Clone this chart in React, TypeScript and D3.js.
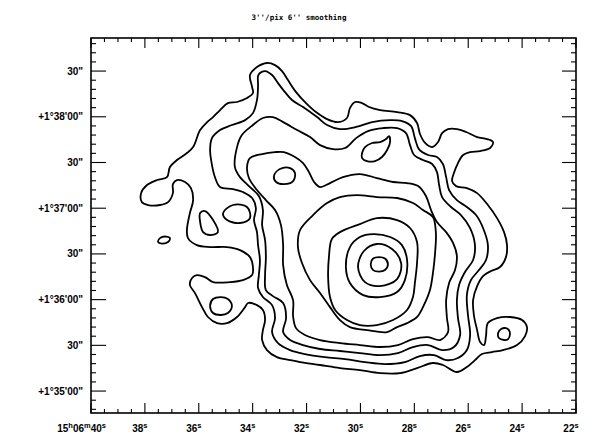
import * as d3 from "d3";

const width = 594;
const height = 444;
const frameLeft = 91;
const frameRight = 576;
const frameTop = 38;
const frameBottom = 413;

// RA: seconds of 15h06m, Dec: arcsec above +1°35'00"
const raDomain = [40, 22];
const decDomain = [-14.4, 231.7];

const raMajor = [40, 38, 36, 34, 32, 30, 28, 26, 24, 22];
const raLabels = ["40", "38", "36", "34", "32", "30", "28", "26", "24", "22"];
const decMajor = [0, 30, 60, 90, 120, 150, 180, 210];
const decLabels = [
  "+1°35'00\"",
  "30\"",
  "+1°36'00\"",
  "30\"",
  "+1°37'00\"",
  "30\"",
  "+1°38'00\"",
  "30\"",
];
const title = "3''/pix 6'' smoothing";

type Pt = [number, number];

// outermost level
const levelA: Pt[] = [
  [33.47, 215.3], [33.17, 213.9], [32.91, 210.0], [32.69, 204.1], [32.39, 196.2],
  [32.02, 189.0], [31.65, 183.1], [31.24, 178.5], [30.83, 176.5], [30.5, 179.2],
  [30.39, 185.7], [30.2, 189.7], [29.94, 189.0], [29.68, 186.4], [29.27, 184.4],
  [28.64, 183.1], [28.16, 181.1], [27.9, 175.9], [27.79, 168.7], [27.6, 162.8],
  [27.34, 160.1], [27.12, 163.4], [26.97, 169.3], [26.75, 171.9], [26.42, 171.9],
  [26.08, 170.0], [25.67, 166.7], [25.3, 165.4], [25.08, 163.4], [25.19, 159.5],
  [25.56, 157.5], [25.93, 156.8], [26.19, 154.9], [26.38, 149.6], [26.53, 143.1],
  [26.6, 137.8], [26.45, 134.5], [26.05, 133.2], [25.67, 129.9], [25.27, 122.1],
  [24.93, 113.5], [24.67, 104.3], [24.56, 95.8], [24.6, 87.9], [24.82, 81.4],
  [25.15, 78.8], [25.45, 75.5], [25.67, 68.9], [25.82, 59.7], [25.79, 49.9],
  [25.67, 40.0], [25.56, 32.2], [25.41, 30.2], [25.34, 36.1], [25.27, 44.6],
  [24.93, 47.9], [24.45, 48.6], [24.0, 46.6], [23.82, 42.0], [23.89, 36.1],
  [24.19, 30.2], [24.71, 26.9], [25.12, 25.6], [25.49, 24.3], [25.75, 20.3],
  [26.05, 15.8], [26.42, 12.5], [26.94, 17.1], [27.31, 18.4], [27.9, 15.1],
  [28.53, 11.8], [29.27, 11.8], [30.02, 13.8], [30.76, 15.1], [31.5, 17.1],
  [32.24, 19.0], [32.61, 20.3], [33.1, 22.3], [33.47, 26.9], [33.65, 33.5],
  [33.62, 40.0], [33.54, 46.6], [33.62, 53.2], [33.84, 56.4], [34.17, 57.8],
  [34.28, 55.1], [34.58, 48.6], [34.95, 44.6], [35.32, 44.6], [35.66, 48.6],
  [35.88, 55.1], [36.14, 64.3], [36.33, 69.6], [36.25, 74.2], [36.07, 76.1],
  [35.77, 74.8], [35.47, 71.5], [34.84, 71.5], [34.36, 72.8], [34.02, 76.1],
  [33.99, 81.4], [34.1, 87.9], [34.47, 92.5], [34.95, 94.5], [35.58, 94.5],
  [36.07, 95.8], [36.4, 100.4], [36.44, 105.7], [36.33, 116.8], [36.21, 125.3],
  [36.29, 133.2], [36.51, 137.2], [36.81, 138.5], [36.96, 135.8], [36.96, 129.9],
  [37.14, 124.0], [37.44, 122.1], [37.88, 122.1], [38.11, 124.0], [38.14, 129.9],
  [37.92, 135.2], [37.55, 138.5], [37.18, 140.4], [37.07, 147.0], [36.81, 151.6],
  [36.44, 156.2], [36.21, 160.1], [35.95, 171.3], [35.69, 176.5], [35.47, 179.8],
  [35.21, 184.4], [34.92, 189.0], [34.58, 189.7], [34.21, 192.3], [33.99, 195.6],
  [34.02, 199.5], [34.1, 207.4], [33.84, 212.6],
];

const levelB: Pt[] = [
  [33.54, 210.0], [33.28, 207.4], [33.06, 202.1], [32.8, 196.2], [32.54, 191.0],
  [32.13, 186.4], [31.61, 179.8], [31.24, 174.6], [30.76, 171.9], [30.16, 173.3],
  [29.57, 176.5], [28.9, 177.8], [28.46, 177.2], [28.12, 173.9], [27.98, 166.0],
  [27.83, 158.8], [27.49, 154.9], [27.16, 153.6], [26.94, 149.0], [26.82, 140.4],
  [26.71, 131.9], [26.42, 125.3], [26.05, 120.8], [25.71, 115.5], [25.45, 107.0],
  [25.27, 95.8], [25.34, 86.0], [25.6, 79.4], [25.9, 72.8], [26.05, 63.0],
  [26.01, 49.9], [25.93, 36.8], [26.05, 26.9], [26.38, 21.7], [26.82, 20.3],
  [27.27, 23.6], [27.79, 23.0], [28.35, 19.0], [29.09, 17.7], [29.83, 19.0],
  [30.57, 21.0], [31.32, 22.3], [32.06, 24.3], [32.61, 26.9], [33.06, 31.5],
  [33.28, 38.7], [33.17, 47.9], [33.28, 56.4], [33.62, 61.7], [33.8, 67.6],
  [33.77, 76.1], [33.73, 86.0], [33.8, 95.8], [33.84, 104.3], [33.95, 112.2],
  [33.88, 120.1], [34.02, 126.7], [34.36, 130.6], [34.73, 132.6], [35.21, 133.9],
  [35.4, 140.4], [35.51, 148.3], [35.58, 158.2], [35.51, 166.0], [35.21, 171.3],
  [34.77, 174.6], [34.28, 177.8], [33.99, 182.4], [33.84, 191.0], [33.8, 200.2],
  [33.8, 206.7], [33.73, 208.7],
];

const levelC: Pt[] = [
  [34.47, 140.4], [34.66, 147.0], [34.58, 160.1], [34.4, 168.0], [33.99, 174.6],
  [33.62, 179.2], [33.25, 179.8], [32.87, 176.5], [32.35, 171.3], [31.87, 166.7],
  [31.5, 161.4], [31.02, 158.8], [30.57, 159.5], [30.16, 166.0], [29.72, 170.6],
  [29.16, 172.6], [28.64, 172.6], [28.31, 169.3], [28.16, 161.4], [28.01, 154.9],
  [27.68, 151.6], [27.34, 149.0], [27.16, 143.7], [27.08, 135.2], [26.97, 127.3],
  [26.64, 120.8], [26.27, 115.5], [25.93, 107.0], [25.75, 95.8], [25.82, 86.0],
  [26.12, 78.1], [26.34, 69.6], [26.42, 59.7], [26.38, 47.9], [26.3, 36.8],
  [26.53, 28.9], [26.97, 26.9], [27.49, 30.2], [28.05, 28.9], [28.61, 24.9],
  [29.27, 23.6], [30.02, 24.9], [30.76, 26.3], [31.5, 27.6], [32.13, 30.2],
  [32.61, 33.5], [32.87, 38.7], [32.76, 47.9], [32.87, 57.8], [33.25, 62.3],
  [33.51, 66.3], [33.54, 76.1], [33.51, 87.3], [33.54, 99.1], [33.65, 108.9],
  [33.62, 118.8], [33.77, 128.0], [34.14, 134.5],
];

const levelD: Pt[] = [
  [34.1, 152.9], [33.65, 155.5], [33.17, 156.8], [32.84, 156.8], [32.43, 153.6],
  [32.13, 149.6], [31.91, 143.7], [31.72, 137.2], [31.5, 133.9], [31.13, 136.5],
  [30.65, 140.4], [30.02, 142.4], [29.39, 139.8], [28.79, 137.2], [28.27, 136.5],
  [27.86, 134.5], [27.57, 128.0], [27.38, 118.8], [27.16, 110.9], [26.82, 104.3],
  [26.56, 97.1], [26.42, 88.6], [26.49, 79.4], [26.71, 70.9], [26.82, 59.7],
  [26.79, 47.9], [26.75, 38.7], [27.05, 33.5], [27.49, 35.4], [28.05, 34.1],
  [28.61, 30.2], [29.27, 28.9], [30.02, 30.2], [30.76, 31.5], [31.5, 33.5],
  [32.06, 36.8], [32.39, 41.3], [32.5, 49.2], [32.5, 59.7], [32.73, 69.6],
  [32.87, 82.7], [32.87, 95.8], [32.95, 108.9], [33.17, 118.8], [33.51, 125.3],
  [33.84, 131.9], [34.14, 139.8], [34.21, 147.0],
];

const levelE: Pt[] = [
  [32.24, 105.7], [32.32, 94.5], [32.17, 84.0], [31.87, 72.8], [31.5, 64.3],
  [31.13, 55.1], [30.76, 46.6], [30.39, 42.0], [29.76, 40.0], [29.01, 38.7],
  [28.64, 42.0], [28.27, 44.6], [27.9, 48.6], [27.68, 55.1], [27.42, 66.3],
  [27.31, 77.4], [27.23, 90.6], [27.2, 103.7], [27.31, 114.2], [27.68, 118.8],
  [28.05, 123.4], [28.64, 126.7], [29.39, 127.3], [30.13, 128.6], [30.76, 127.3],
  [31.24, 123.4], [31.76, 115.5],
];

const levelF: Pt[] = [
  [31.06, 99.8], [30.76, 104.3], [30.02, 109.6], [29.39, 113.5], [28.64, 112.2],
  [28.16, 107.0], [27.9, 97.8], [27.9, 84.0], [27.98, 70.9], [28.05, 61.7],
  [28.27, 53.2], [28.79, 46.6], [29.39, 43.3], [30.02, 43.3], [30.5, 46.6],
  [30.94, 53.2], [31.13, 61.7], [31.2, 74.8], [31.17, 87.9],
];

const levelG: Pt[] = [
  [30.39, 94.5], [30.02, 101.1], [29.53, 103.0], [28.9, 101.1], [28.46, 95.8],
  [28.27, 86.0], [28.35, 72.8], [28.64, 65.0], [29.27, 61.7], [29.9, 63.0],
  [30.39, 70.9], [30.54, 81.4],
];

const levelH: Pt[] = [
  [29.39, 96.5], [28.83, 93.2], [28.49, 84.0], [28.64, 73.5], [29.27, 68.9],
  [29.83, 71.5], [30.09, 81.4], [29.87, 91.9],
];

const levelI: Pt[] = [
  [28.98, 83.3], [29.09, 79.4], [29.31, 78.4], [29.53, 79.4], [29.62, 83.3],
  [29.53, 87.0], [29.31, 87.9], [29.09, 87.0],
];

// small closed islands
const islandEye: Pt[] = [
  [33.21, 141.1], [32.99, 145.7], [32.61, 146.3], [32.43, 143.1], [32.5, 137.8],
  [32.84, 135.8], [33.13, 137.2],
];
const islandDrop: Pt[] = [
  [29.94, 156.2], [29.83, 160.1], [29.57, 162.8], [29.27, 163.4], [29.05, 165.4],
  [28.94, 167.3], [28.9, 163.4], [29.01, 158.2], [29.2, 153.6], [29.46, 150.9],
  [29.76, 150.9], [29.94, 152.9],
];
const islandLeftTall: Pt[] = [
  [35.95, 116.8], [35.77, 118.1], [35.47, 112.2], [35.29, 104.3], [35.58, 102.4],
  [35.84, 104.3], [35.95, 110.9],
];
const islandLeftRound: Pt[] = [
  [35.1, 116.8], [34.73, 122.1], [34.21, 120.8], [34.1, 113.5], [34.47, 110.3],
  [34.95, 112.2],
];
const islandBump: Pt[] = [
  [34.77, 55.8], [34.92, 51.2], [35.18, 49.9], [35.47, 51.2], [35.58, 55.8],
  [35.47, 60.4], [35.18, 61.7], [34.92, 60.4],
];
const islandFarLeft: Pt[] = [
  [37.51, 97.8], [37.44, 100.4], [37.22, 101.4], [37.07, 100.4], [37.14, 97.8],
  [37.37, 96.8],
];
const islandRight: Pt[] = [
  [24.45, 37.4], [24.52, 34.1], [24.67, 33.5], [24.86, 34.8], [24.89, 38.1],
  [24.78, 40.7], [24.6, 41.3], [24.49, 40.0],
];

const contours = [
  levelA, levelB, levelC, levelD, levelE, levelF, levelG, levelH, levelI,
  islandEye, islandDrop, islandLeftTall, islandLeftRound, islandBump,
  islandFarLeft, islandRight,
];

const x = d3.scaleLinear().domain(raDomain).range([frameLeft, frameRight]);
const y = d3.scaleLinear().domain(decDomain).range([frameBottom, frameTop]);

const line = d3
  .line<Pt>()
  .x((d) => x(d[0]))
  .y((d) => y(d[1]))
  .curve(d3.curveCatmullRomClosed.alpha(0.5));

const raMinor = d3.range(22, 40.001, 0.5).filter((v) => v % 2 !== 0);
const decMinor = d3.range(-12, 231, 6).filter((v) => v % 30 !== 0);

const labelFont = "Liberation Sans, Arial, sans-serif";

const App = () => {
  return (
    <svg
      width={width}
      height={height}
      viewBox={`0 0 ${width} ${height}`}
      style={{ position: "absolute", left: 0, top: 0, background: "#fff" }}
    >
      <rect width={width} height={height} fill="#fff" />
      <text
        x={299}
        y={20}
        textAnchor="middle"
        fontFamily="DejaVu Sans Mono, monospace"
        fontWeight="bold"
        fontSize={7.5}
        fill="#000"
      >
        {title}
      </text>

      {/* contours */}
      <g fill="none" stroke="#000" strokeWidth={1.8} strokeLinejoin="round">
        {contours.map((c, i) => (
          <path key={i} d={line(c) ?? ""} />
        ))}
      </g>

      {/* frame */}
      <rect
        x={frameLeft}
        y={frameTop}
        width={frameRight - frameLeft}
        height={frameBottom - frameTop}
        fill="none"
        stroke="#000"
        strokeWidth={1.6}
      />

      {/* ticks */}
      <g stroke="#000" strokeWidth={1.1}>
        {raMajor.map((v) => (
          <g key={`rx${v}`}>
            <line x1={x(v)} x2={x(v)} y1={frameBottom} y2={frameBottom - 10} />
            <line x1={x(v)} x2={x(v)} y1={frameTop} y2={frameTop + 10} />
          </g>
        ))}
        {raMinor.map((v) => (
          <g key={`rm${v}`}>
            <line x1={x(v)} x2={x(v)} y1={frameBottom} y2={frameBottom - 4} />
            <line x1={x(v)} x2={x(v)} y1={frameTop} y2={frameTop + 4} />
          </g>
        ))}
        {decMajor.map((v) => (
          <g key={`dy${v}`}>
            <line x1={frameLeft} x2={frameLeft + 15} y1={y(v)} y2={y(v)} />
            <line x1={frameRight} x2={frameRight - 14} y1={y(v)} y2={y(v)} />
          </g>
        ))}
        {decMinor.map((v) => (
          <g key={`dm${v}`}>
            <line x1={frameLeft} x2={frameLeft + 5} y1={y(v)} y2={y(v)} />
            <line x1={frameRight} x2={frameRight - 5} y1={y(v)} y2={y(v)} />
          </g>
        ))}
      </g>

      {/* dec labels */}
      <g fontFamily={labelFont} fontSize={10} fontWeight="bold" fill="#000">
        {decMajor.map((v, i) => (
          <text key={`dl${v}`} x={83} y={y(v) + 3.5} textAnchor="end">
            {decLabels[i]}
          </text>
        ))}
      </g>

      {/* ra labels */}
      <g fontFamily={labelFont} fontSize={10} fontWeight="bold" fill="#000">
        {raMajor.map((v, i) =>
          i === 0 ? (
            <text key={`rl${v}`} x={x(v) + 15} y={432} textAnchor="end">
              15<tspan fontSize={7.5} dy={-4}>h</tspan>
              <tspan dy={4}>06</tspan>
              <tspan fontSize={7.5} dy={-4}>m</tspan>
              <tspan dy={4}>{raLabels[i]}</tspan>
              <tspan fontSize={7.5} dy={-4}>s</tspan>
            </text>
          ) : (
            <text key={`rl${v}`} x={x(v) - 5} y={432} textAnchor="middle">
              {raLabels[i]}
              <tspan fontSize={7.5} dy={-4}>s</tspan>
            </text>
          )
        )}
      </g>
    </svg>
  );
};

export default App;
